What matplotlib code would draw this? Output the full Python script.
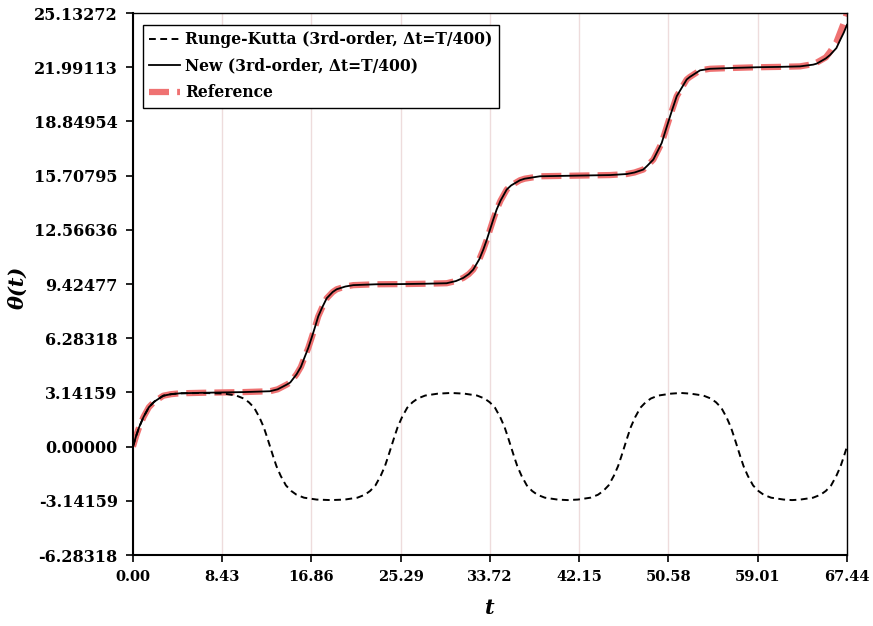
import matplotlib
matplotlib.use("Agg")
import matplotlib.pyplot as plt

# time axis ticks and theta ticks (multiples of pi, rounded as 3.14159*k)
x_ticks = [0.00, 8.43, 16.86, 25.29, 33.72, 42.15, 50.58, 59.01, 67.44]
y_ticks = [-6.28318, -3.14159, 0.0, 3.14159, 6.28318, 9.42477, 12.56636,
           15.70795, 18.84954, 21.99113, 25.13272]

# new 3rd-order scheme
t_new = [0.0, 0.3, 0.6, 1.0, 1.5, 2.0, 2.86, 3.6, 4.44, 6.5, 8.43, 10.4,
         12.94, 13.66, 14.51, 14.86, 15.46, 15.86, 16.25, 16.56, 16.86, 17.16,
         17.5, 17.86, 18.3, 18.86, 19.24, 20.06, 20.81, 23.0, 25.29, 27.5,
         29.63, 30.52, 31.2, 31.72, 32.14, 32.72, 33.09, 33.42, 33.72, 34.02,
         34.35, 34.72, 35.3, 35.72, 36.55, 37.0, 38.44, 42.15, 45.06, 46.63,
         47.38, 48.2, 48.58, 49.15, 49.58, 49.94, 50.28, 50.58, 50.88, 51.36,
         51.58, 52.3, 52.58, 53.56, 54.5, 56.71, 59.01, 61.0, 63.0, 64.24,
         64.58, 65.44, 65.84, 66.44, 66.78, 67.14, 67.44]
theta_new = [0.0, 0.62, 1.15, 1.72, 2.28, 2.6, 2.95, 3.04, 3.09, 3.12, 3.14, 3.16,
             3.21, 3.32, 3.59, 3.72, 4.2, 4.62, 5.24, 5.72, 6.28, 6.86,
             7.55, 8.05, 8.6, 8.96, 9.12, 9.28, 9.36, 9.41, 9.42, 9.44,
             9.47, 9.6, 9.78, 10.0, 10.26, 10.87, 11.42, 11.99, 12.57, 13.14,
             13.74, 14.26, 14.9, 15.14, 15.44, 15.53, 15.67, 15.71, 15.74, 15.8,
             15.89, 16.06, 16.28, 16.64, 17.16, 17.6, 18.27, 18.85, 19.43, 20.31,
             20.54, 21.28, 21.42, 21.81, 21.9, 21.95, 21.99, 22.01, 22.04, 22.14,
             22.2, 22.5, 22.7, 23.1, 23.55, 24.0, 24.45]

# reference solution
t_ref = t_new
theta_ref = [0.0, 0.62, 1.15, 1.72, 2.28, 2.6, 2.95, 3.04, 3.09, 3.12, 3.14, 3.16,
             3.21, 3.32, 3.59, 3.72, 4.2, 4.62, 5.24, 5.72, 6.28, 6.86,
             7.55, 8.05, 8.6, 8.96, 9.12, 9.28, 9.36, 9.41, 9.42, 9.44,
             9.47, 9.6, 9.78, 10.0, 10.26, 10.87, 11.42, 11.99, 12.57, 13.14,
             13.74, 14.26, 14.9, 15.14, 15.44, 15.53, 15.67, 15.71, 15.74, 15.8,
             15.89, 16.06, 16.28, 16.64, 17.16, 17.6, 18.27, 18.85, 19.43, 20.31,
             20.54, 21.28, 21.42, 21.81, 21.9, 21.95, 21.99, 22.01, 22.04, 22.17,
             22.26, 22.56, 22.88, 23.44, 23.98, 24.56, 25.13]

# classic Runge-Kutta 3rd order
t_rk = [0.0, 0.3, 0.6, 1.0, 1.5, 2.0, 2.86, 3.6, 4.44, 6.5, 8.55,
        9.75, 10.45, 10.95, 11.45, 11.95, 12.35, 12.65, 12.95, 13.25, 13.55,
        13.95, 14.45, 14.95, 15.45, 16.15, 17.35, 18.7,
        20.0, 21.2, 21.9, 22.4, 22.9, 23.4, 23.8, 24.1, 24.4, 24.7, 25.0,
        25.4, 25.9, 26.4, 26.9, 27.6, 28.8, 30.05,
        31.3, 32.5, 33.2, 33.7, 34.2, 34.7, 35.1, 35.4, 35.7, 36.0, 36.3,
        36.7, 37.2, 37.7, 38.2, 38.9, 40.1, 41.05,
        42.02, 43.22, 43.92, 44.42, 44.92, 45.42, 45.82, 46.12, 46.42, 46.72,
        47.02, 47.42, 47.92, 48.42, 48.92, 49.62, 50.82, 51.75,
        52.67, 53.87, 54.57, 55.07, 55.57, 56.07, 56.47, 56.77, 57.07, 57.37,
        57.67, 58.07, 58.57, 59.07, 59.57, 60.27, 61.47, 62.25,
        63.04, 64.24, 64.94, 65.44, 65.94, 66.44, 66.84, 67.14, 67.44]
theta_rk = [0.0, 0.62, 1.15, 1.72, 2.28, 2.6, 2.95, 3.04, 3.09, 3.11, 3.08,
            2.96, 2.79, 2.57, 2.25, 1.69, 1.13, 0.58, 0.0, -0.58, -1.13,
            -1.69, -2.25, -2.57, -2.79, -2.96, -3.07, -3.1,
            -3.07, -2.96, -2.79, -2.57, -2.25, -1.69, -1.13, -0.58, 0.0, 0.58, 1.13,
            1.69, 2.25, 2.57, 2.79, 2.96, 3.07, 3.11,
            3.07, 2.96, 2.79, 2.57, 2.25, 1.69, 1.13, 0.58, 0.0, -0.58, -1.13,
            -1.69, -2.25, -2.57, -2.79, -2.96, -3.07, -3.1,
            -3.07, -2.96, -2.79, -2.57, -2.25, -1.69, -1.13, -0.58, 0.0, 0.58,
            1.13, 1.69, 2.25, 2.57, 2.79, 2.96, 3.07, 3.11,
            3.07, 2.96, 2.79, 2.57, 2.25, 1.69, 1.13, 0.58, 0.0, -0.58,
            -1.13, -1.69, -2.25, -2.57, -2.79, -2.96, -3.07, -3.1,
            -3.07, -2.96, -2.79, -2.57, -2.25, -1.69, -1.13, -0.58, 0.0]

plt.rcParams["font.family"] = "DejaVu Serif"
plt.rcParams["font.weight"] = "bold"

fig = plt.figure(figsize=(8.73, 6.26), dpi=100)
ax = fig.add_axes([0.1523, 0.1134, 0.8179, 0.8658])

ax.plot(t_ref, theta_ref, color="#EF7272", lw=4.5, dashes=(3.2, 1.3),
        label="Reference", zorder=2)
ax.plot(t_rk, theta_rk, color="black", lw=1.4, dashes=(3.5, 2.3),
        label="Runge-Kutta (3rd-order, \u0394t=T/400)", zorder=3)
ax.plot(t_new, theta_new, color="black", lw=1.3,
        label="New (3rd-order, \u0394t=T/400)", zorder=4)

ax.set_xlim(0, 67.44)
ax.set_ylim(-6.28318, 25.13272)
ax.set_xticks(x_ticks)
ax.set_xticklabels([f"{v:.2f}" for v in x_ticks], fontsize=10.5)
ax.set_yticks(y_ticks)
ax.set_yticklabels([f"{v:.5f}" for v in y_ticks], fontsize=11.5)
ax.tick_params(direction="out", length=5, width=1.2, pad=6)

ax.grid(axis="x", color="#EEDCDC", lw=1)
ax.set_axisbelow(True)
for side in ["left", "bottom"]:
    ax.spines[side].set_linewidth(1.5)
for side in ["top", "right"]:
    ax.spines[side].set_linewidth(1.0)

ax.set_xlabel("t", fontsize=15, style="italic", fontweight="bold", labelpad=10)
ax.set_ylabel("\u03b8(t)", fontsize=15, style="italic", fontweight="bold")
ax.yaxis.set_label_coords(-0.148, 0.493)

handles, labels = ax.get_legend_handles_labels()
order = [1, 2, 0]
leg = ax.legend([handles[i] for i in order], [labels[i] for i in order],
                loc="upper left", bbox_to_anchor=(0.014, 0.978), fontsize=11.2,
                fancybox=False, framealpha=1, edgecolor="black",
                handlelength=2.0, handletextpad=0.3, borderpad=0.4,
                labelspacing=0.62, borderaxespad=0)
leg.get_frame().set_linewidth(1.0)

fig.savefig("out.png", dpi=100)
